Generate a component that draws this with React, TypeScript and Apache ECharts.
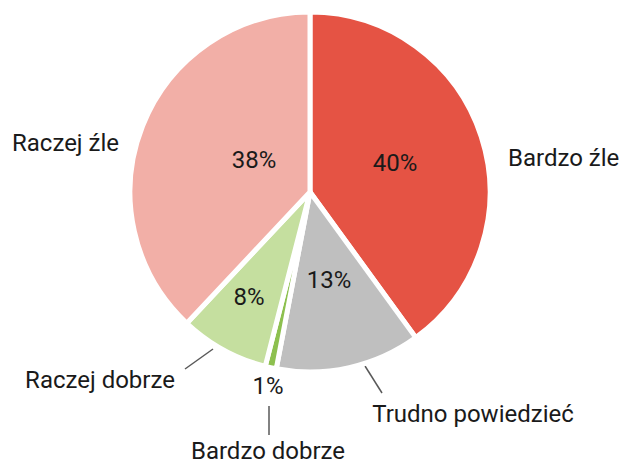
import React, { useEffect, useRef } from "react";
import * as echarts from "echarts";

const categories = ["Bardzo źle", "Trudno powiedzieć", "Bardzo dobrze", "Raczej dobrze", "Raczej źle"];
const values = [40, 13, 1, 8, 38];
const colors = ["#E55344", "#BFBFBF", "#8DC04F", "#C5DF9F", "#F2AFA7"];

// label layout (positions of texts around the pie)
const pctPos: [number, number][] = [[395, 163], [329, 280], [268, 386], [249, 297], [254, 160]];
const namePos: { x: number; y: number; align: string }[] = [
  { x: 508, y: 158, align: "left" },
  { x: 473, y: 414, align: "center" },
  { x: 268, y: 451, align: "center" },
  { x: 100, y: 380, align: "center" },
  { x: 12, y: 143, align: "left" },
];
const leaderLines: [number, number, number, number][] = [
  [365, 366, 382, 393],
  [269, 406, 269, 435],
  [213, 349, 185, 369],
];

export default function App() {
  const ref = useRef<HTMLDivElement>(null);
  useEffect(() => {
    if (!ref.current) return;
    const chart = echarts.init(ref.current, undefined, { renderer: "svg" });
    const data = categories.map((c, i) => ({ name: c, value: values[i], itemStyle: { color: colors[i] } }));
    const font = "Roboto, 'Noto Sans', sans-serif";
    chart.setOption({
      animation: false,
      backgroundColor: "#ffffff",
      series: [
        {
          type: "pie",
          center: [310, 192],
          radius: 180,
          startAngle: 90,
          clockwise: true,
          data,
          itemStyle: { borderColor: "#ffffff", borderWidth: 5 },
          label: {
            show: true,
            position: "inside",
            formatter: "{d}%",
            fontSize: 24,
            lineHeight: 22,
            fontFamily: font,
            color: "#1a1a1a",
            overflow: "none",
          },
          labelLine: { show: false },
          labelLayout: (p: any) => ({
            x: pctPos[p.dataIndex][0],
            y: pctPos[p.dataIndex][1],
            align: "center",
            verticalAlign: "middle",
          }),
          emphasis: { disabled: true },
        },
        {
          type: "pie",
          center: [310, 192],
          radius: 180,
          startAngle: 90,
          clockwise: true,
          silent: true,
          data: categories.map((c, i) => ({ name: c, value: values[i], itemStyle: { color: "rgba(0,0,0,0)" } })),
          label: {
            show: true,
            position: "outside",
            formatter: "{b}",
            fontSize: 24,
            lineHeight: 22,
            fontFamily: font,
            color: "#1a1a1a",
            overflow: "none",
            width: 300,
          },
          labelLine: { show: false },
          labelLayout: (p: any) => ({
            x: namePos[p.dataIndex].x,
            y: namePos[p.dataIndex].y,
            align: namePos[p.dataIndex].align,
            verticalAlign: "middle",
          }),
          emphasis: { disabled: true },
        },
      ],
      graphic: leaderLines.map((l) => ({
        type: "line",
        shape: { x1: l[0], y1: l[1], x2: l[2], y2: l[3] },
        style: { stroke: "#595959", lineWidth: 1.5 },
        silent: true,
      })),
    });
    return () => chart.dispose();
  }, []);
  return <div ref={ref} style={{ position: "fixed", left: 0, top: 0, width: 621, height: 464 }} />;
}
